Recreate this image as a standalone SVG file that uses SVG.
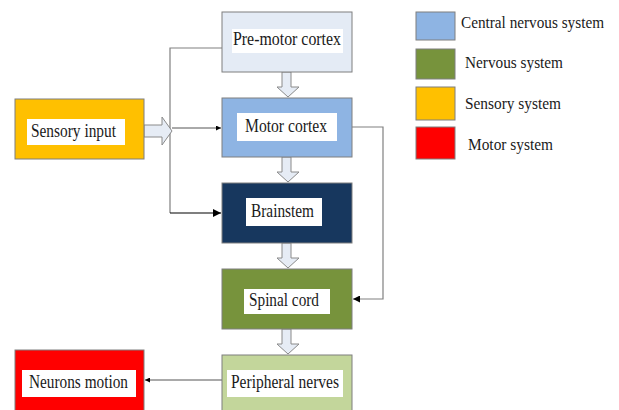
<svg xmlns="http://www.w3.org/2000/svg" width="619" height="410" viewBox="0 0 619 410">
<defs>
<style>
.box{stroke:#7f7f7f;stroke-width:1}
.lbl{fill:#ffffff;stroke:none}
.t{font-family:"Liberation Serif","Times New Roman",serif;font-size:18px;fill:#1a1a1a}
.lg{font-size:16px}
.conn{fill:none;stroke:#808080;stroke-width:1.2}
.hollow{fill:#E6ECF5;stroke:#8a8a8a;stroke-width:1}
</style>
<marker id="ah" viewBox="0 0 10 10" refX="10" refY="5" markerWidth="8" markerHeight="7" markerUnits="userSpaceOnUse" orient="auto"><path d="M0,0 L10,5 L0,10 Z" fill="#000"/></marker>
<marker id="ahs" viewBox="0 0 10 10" refX="10" refY="5" markerWidth="6" markerHeight="5" markerUnits="userSpaceOnUse" orient="auto"><path d="M0,0 L10,5 L0,10 Z" fill="#000"/></marker>
<marker id="ahb" viewBox="0 0 10 10" refX="10" refY="5" markerWidth="10" markerHeight="8" markerUnits="userSpaceOnUse" orient="auto"><path d="M0,0 L10,5 L0,10 Z" fill="#000"/></marker>
</defs>
<rect width="619" height="410" fill="#ffffff"/>

<g id="connectors">
<polyline class="conn" points="222,48 170,48 170,213"/>
<line x1="170" y1="213" x2="221" y2="213" stroke="#000" stroke-width="1.2" marker-end="url(#ahb)"/>
<line x1="172" y1="128" x2="221" y2="128" stroke="#555" stroke-width="1" marker-end="url(#ahs)"/>
<polyline class="conn" points="352,127 383,127 383,299 353,299" marker-end="url(#ah)"/>
<line x1="222" y1="380" x2="145" y2="380" stroke="#555" stroke-width="1" marker-end="url(#ahs)"/>
<path class="hollow" d="M144,125 L162,125 L162,117 L172,131 L162,145 L162,137 L144,137 Z"/>
<path class="hollow" d="M282,72 L291,72 L291,87 L299,87 L288,97 L277,87 L282,87 Z"/>
<path class="hollow" d="M282,157 L291,157 L291,172 L299,172 L288,182 L277,172 L282,172 Z"/>
<path class="hollow" d="M282,243 L291,243 L291,258 L299,258 L288,268 L277,258 L282,258 Z"/>
<path class="hollow" d="M282,329 L291,329 L291,344 L299,344 L288,354 L277,344 L282,344 Z"/>
</g>

<g id="premotor">
<rect class="box" x="222" y="12" width="130" height="60" fill="#E4EBF5"/>
<rect class="lbl" x="232" y="29" width="111" height="24"/>
<text class="t" x="233" y="45" textLength="108" lengthAdjust="spacingAndGlyphs">Pre-motor cortex</text>
</g>
<g id="motor">
<rect class="box" x="222" y="98" width="130" height="59" fill="#8EB4E3"/>
<rect class="lbl" x="237" y="113" width="100" height="28"/>
<text class="t" x="245" y="132" textLength="82" lengthAdjust="spacingAndGlyphs">Motor cortex</text>
</g>
<g id="brainstem">
<rect class="box" x="222" y="183" width="130" height="60" fill="#17375E"/>
<rect class="lbl" x="246" y="198" width="76" height="28"/>
<text class="t" x="251" y="217" textLength="63" lengthAdjust="spacingAndGlyphs">Brainstem</text>
</g>
<g id="spinal">
<rect class="box" x="222" y="269" width="130" height="60" fill="#77933C"/>
<rect class="lbl" x="244" y="289" width="86" height="25"/>
<text class="t" x="249" y="306" textLength="70" lengthAdjust="spacingAndGlyphs">Spinal cord</text>
</g>
<g id="peripheral">
<rect class="box" x="222" y="355" width="130" height="70" fill="#C3D69B"/>
<rect class="lbl" x="227" y="370" width="116" height="27"/>
<text class="t" x="231" y="388" textLength="108" lengthAdjust="spacingAndGlyphs">Peripheral nerves</text>
</g>
<g id="sensory">
<rect class="box" x="15" y="99" width="129" height="60" fill="#FFC000"/>
<rect class="lbl" x="27" y="119" width="98" height="26"/>
<text class="t" x="31" y="137" textLength="85" lengthAdjust="spacingAndGlyphs">Sensory input</text>
</g>
<g id="neurons">
<rect class="box" x="15" y="350" width="129" height="75" fill="#FF0000"/>
<rect class="lbl" x="22" y="370" width="114" height="27"/>
<text class="t" x="29" y="388" textLength="99" lengthAdjust="spacingAndGlyphs">Neurons motion</text>
</g>

<g id="legend">
<rect class="box" x="416" y="12" width="39" height="28" fill="#8EB4E3"/>
<text class="t lg" x="461" y="28" textLength="143" lengthAdjust="spacingAndGlyphs">Central nervous system</text>
<rect class="box" x="416" y="49" width="39" height="30" fill="#77933C"/>
<text class="t lg" x="465" y="68" textLength="98" lengthAdjust="spacingAndGlyphs">Nervous system</text>
<rect class="box" x="416" y="87" width="39" height="33" fill="#FFC000"/>
<text class="t lg" x="465" y="109" textLength="96" lengthAdjust="spacingAndGlyphs">Sensory system</text>
<rect class="box" x="416" y="127" width="39" height="32" fill="#FF0000"/>
<text class="t lg" x="468" y="150" textLength="85" lengthAdjust="spacingAndGlyphs">Motor system</text>
</g>
</svg>
